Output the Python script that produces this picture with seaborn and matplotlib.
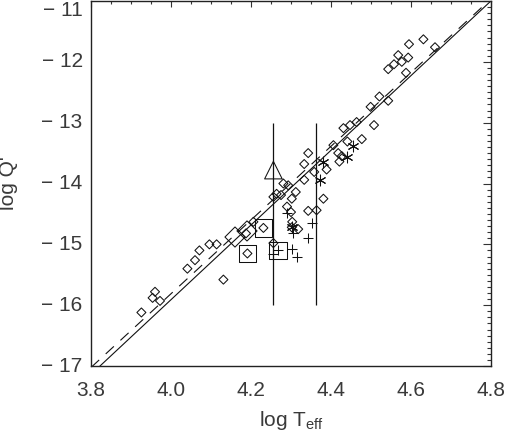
import numpy as np
import pandas as pd
import matplotlib
matplotlib.use("Agg")
import matplotlib.pyplot as plt
import seaborn as sns
from matplotlib.ticker import MultipleLocator, FixedLocator

# ---- data ----
diamond_x = [3.926, 3.960, 3.954, 3.9725, 4.041, 4.060, 4.071, 4.096, 4.114, 4.131,
             4.206, 4.1875, 4.256, 4.231, 4.191, 4.256, 4.281, 4.293, 4.264, 4.275,
             4.312, 4.302, 4.381, 4.300, 4.343, 4.364, 4.303, 4.302, 4.318, 4.290,
             4.343, 4.333, 4.389, 4.333, 4.358, 4.406, 4.418, 4.427, 4.421, 4.431,
             4.4475, 4.464, 4.5075, 4.477, 4.441, 4.499, 4.521, 4.543, 4.543, 4.5575,
             4.577, 4.568, 4.593, 4.5875, 4.595, 4.631, 4.660]
diamond_y = [-16.12, -15.78, -15.88, -15.93, -15.40, -15.26, -15.10, -15.00, -15.00, -15.58,
             -14.63, -14.82, -14.98, -14.73, -15.15, -14.22, -14.00, -14.03, -14.17, -14.19,
             -14.14, -14.25, -14.25, -14.47, -14.45, -14.44, -14.63, -14.72, -14.75, -14.38,
             -13.50, -13.68, -13.77, -13.94, -13.81, -13.37, -13.50, -13.55, -13.64, -13.09,
             -13.04, -12.99, -13.04, -13.27, -13.31, -12.74, -12.57, -12.64, -12.12, -12.04,
             -12.00, -11.89, -11.93, -12.18, -11.71, -11.63, -11.76]

big_diamond_x = [4.160, 4.190]
big_diamond_y = [-14.88, -14.78]

square_x = [4.231, 4.191, 4.268]
square_y = [-14.73, -15.15, -15.10]

triangle_x = [4.256]
triangle_y = [-13.78]

plus_x = [4.289, 4.353, 4.304, 4.343, 4.302, 4.314, 4.268, 4.256]
plus_y = [-14.49, -14.65, -14.82, -14.90, -15.07, -15.21, -15.10, -15.16]

star_x = [4.456, 4.440, 4.381, 4.3725, 4.302]
star_y = [-13.39, -13.57, -13.64, -13.95, -14.72]

# vertical bars (x position, y low, y high)
bar_x = [4.256, 4.3625]
bar_lo = [-16.0, -16.0]
bar_hi = [-13.0, -13.0]

# fitted relations: y = -17 + slope * (x - x0)
solid_x0, solid_slope = 3.8225, 6.14
dash_x0, dash_slope = 3.804, 6.06

xticks = [3.8, 4.0, 4.2, 4.4, 4.6, 4.8]
yticks = [-17, -16, -15, -14, -13, -12, -11]

# ---- figure ----
sns.set_theme(style="white")
plt.rcParams['font.family'] = ['Liberation Sans', 'DejaVu Sans']
plt.rcParams['mathtext.fontset'] = 'custom'
plt.rcParams['mathtext.rm'] = 'Liberation Sans'
plt.rcParams['axes.unicode_minus'] = True

fig = plt.figure(figsize=(5.08, 4.34), dpi=100)
ax = fig.add_axes([91/508, 1 - 366/434, 400/508, 365/434])

ink = '#111111'
lw = 0.75

line_x = np.array([3.8, 4.8])
sns.lineplot(x=line_x, y=-17 + solid_slope * (line_x - solid_x0), ax=ax,
             color=ink, lw=0.8)
sns.lineplot(x=line_x, y=-17 + dash_slope * (line_x - dash_x0), ax=ax,
             color=ink, lw=0.8, linestyle=(0, (10, 8)))

ax.vlines(bar_x, bar_lo, bar_hi, color=ink, lw=0.9)

sns.scatterplot(x=diamond_x, y=diamond_y, ax=ax, marker='D', s=21,
                facecolors='none', edgecolor=ink, linewidth=lw)
sns.scatterplot(x=big_diamond_x, y=big_diamond_y, ax=ax, marker='D', s=105,
                facecolors='none', edgecolor=ink, linewidth=lw)
sns.scatterplot(x=square_x, y=square_y, ax=ax, marker='s', s=160,
                facecolors='none', edgecolor=ink, linewidth=lw)
sns.scatterplot(x=triangle_x, y=triangle_y, ax=ax, marker='^', s=160,
                facecolors='none', edgecolor=ink, linewidth=lw)
sns.scatterplot(x=plus_x, y=plus_y, ax=ax, marker='+', s=60,
                color=ink, linewidth=lw)
sns.scatterplot(x=star_x, y=star_y, ax=ax, marker=(6, 2, 0), s=60,
                color=ink, linewidth=lw)

ax.set_xlim(3.8, 4.8)
ax.set_ylim(-17, -11)
ax.xaxis.set_major_locator(FixedLocator(xticks))
ax.yaxis.set_major_locator(FixedLocator(yticks))
ax.xaxis.set_minor_locator(MultipleLocator(0.05))
ax.yaxis.set_minor_locator(MultipleLocator(0.1))
ax.set_xticklabels([f"{v:.1f}" for v in xticks])
ax.set_yticklabels([f"\u2212 {abs(v)}" for v in yticks])

txt = '#3a3a3a'
ax.tick_params(axis='both', which='both', direction='in', top=True, right=True,
               colors='#333333', labelcolor=txt, labelsize=15)
ax.tick_params(axis='x', which='major', length=4.3, width=0.8, pad=11)
ax.tick_params(axis='x', which='minor', length=2.2, width=0.8)
ax.tick_params(axis='y', which='major', length=5.8, width=0.8, pad=6)
ax.tick_params(axis='y', which='minor', length=2.9, width=0.8)

# keep the top label inside the canvas, slightly below its tick as in the reference
for lab in ax.get_yticklabels():
    lab.set_va('center')
ax.get_yticklabels()[-1].set_va('top')

for sp in ax.spines.values():
    sp.set_color('#222222')
    sp.set_linewidth(1.0)

ax.set_xlabel(r"log T$_{\mathregular{eff}}$", fontsize=15, color=txt, labelpad=6)
ax.set_ylabel("log Q'", fontsize=15, color=txt, labelpad=17)

fig.savefig("out.png", dpi=100)
